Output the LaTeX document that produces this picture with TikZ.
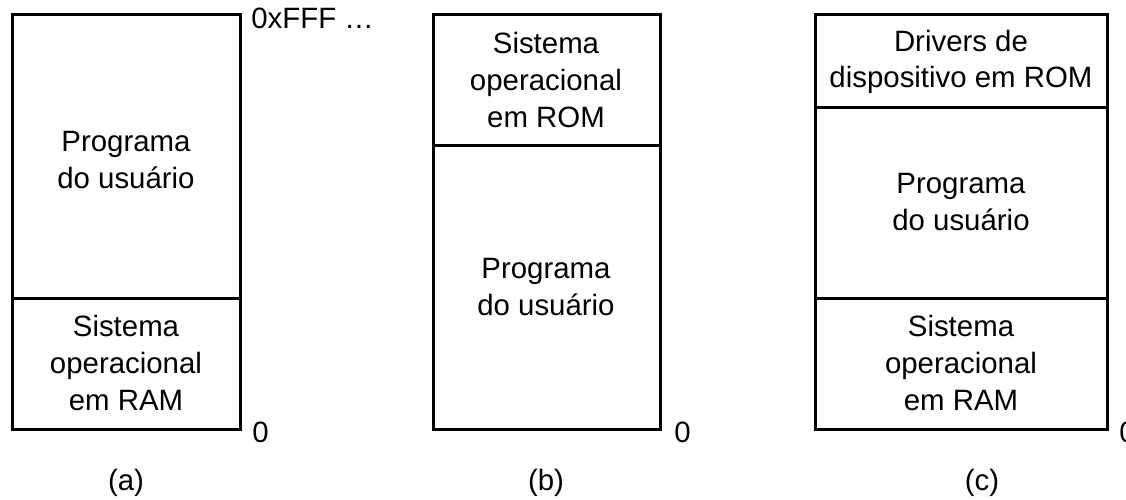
\documentclass[tikz,border=0pt]{standalone}
\usepackage{fontspec}
\setmainfont{Liberation Sans}
\usetikzlibrary{positioning}
\tikzset{mem/.style={line width=1.5pt}}
\tikzset{txt/.style={align=center,inner sep=0pt,font=\fontsize{14.7}{18.3}\selectfont}}

\begin{document}
\begin{tikzpicture}[x=0.5pt,y=-0.5pt]
\clip (0,0) rectangle (1126,499);
% (a)
\draw [mem] (12,14) rectangle (240,429);
\draw [mem] (12,298) -- (240,298);
\node[txt] (usera) at (126,160) {Programa\\do usuário};
\node[txt] (ram a) at (126,363) {Sistema\\operacional\\em RAM};
\node[txt,anchor=west] (top) at (251,18) {0xFFF …};
\node[txt,anchor=west] (zero a) at (252,432) {0};
\node[txt] (capa) at (126,483) {(a)};
% (b)
\draw [mem] (433,14) rectangle (660,429);
\draw [mem] (433,145) -- (660,145);
\node[txt] (rom b) at (546,80) {Sistema\\operacional\\em ROM};
\node[txt] (userb) at (546,287) {Programa\\do usuário};
\node[txt,anchor=west] (zero b) at (674,432) {0};
\node[txt] (capb) at (546,483) {(b)};
% (c)
\draw [mem] (815,14) rectangle (1107,429);
\draw [mem] (815,107) -- (1107,107);
\draw [mem] (815,298) -- (1107,298);
\node[txt] (drv c) at (961,62) {Drivers de\\dispositivo em ROM};
\node[txt] (userc) at (961,202) {Programa\\do usuário};
\node[txt] (ram c) at (961,363) {Sistema\\operacional\\em RAM};
\node[txt,anchor=west] (zero c) at (1119,432) {0};
\node[txt] (capc) at (982,483) {(c)};
\end{tikzpicture}
\end{document}
